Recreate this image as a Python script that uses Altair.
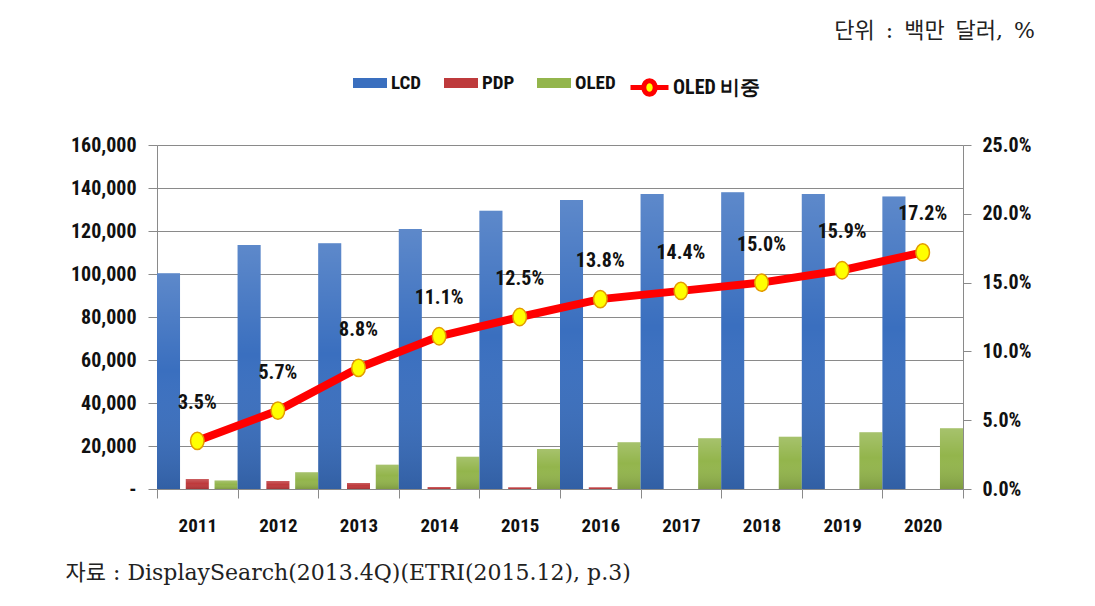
import altair as alt
import pandas as pd

years = ["2011", "2012", "2013", "2014", "2015", "2016", "2017", "2018", "2019", "2020"]
lcd = [100300, 113500, 114300, 120900, 129400, 134400, 137200, 138000, 137200, 136000]
pdp = [4600, 3700, 2800, 900, 800, 800, 0, 0, 0, 0]
oled = [3900, 7800, 11300, 15000, 18600, 21700, 23600, 24300, 26400, 28200]
share = [0.035, 0.057, 0.088, 0.111, 0.125, 0.138, 0.144, 0.150, 0.159, 0.172]
series = ["LCD", "PDP", "OLED"]
series_colors = ["#3a6fbf", "#be3a3c", "#93b54c"]
share_name = "OLED 비중"
unit_text = "단위\u2002:\u2002백만\u2002달러,\u2002%"

rows = []
for i, y in enumerate(years):
    for s, vals in zip(series, [lcd, pdp, oled]):
        rows.append({"year": y, "series": s, "value": vals[i]})
bars_df = pd.DataFrame(rows)
share_df = pd.DataFrame({"year": years, "share": share, "name": [share_name] * len(years)})

NUM_FONT = "Liberation Sans Narrow, Roboto Condensed, DejaVu Sans Condensed, Liberation Sans"
SERIF = "DejaVu Serif, Liberation Serif, Noto Sans CJK KR"

x_enc = alt.X("year:N", sort=years, title="자료 : DisplaySearch(2013.4Q)(ETRI(2015.12), p.3)",
              scale=alt.Scale(paddingInner=0, paddingOuter=0),
              axis=alt.Axis(labelAngle=0, labelFont=NUM_FONT, labelFontSize=19, labelFontWeight="bold",
                            labelColor="#111", labelPadding=18, tickBand="extent", tickSize=9,
                            tickColor="#8a8a8a", domainColor="#8a8a8a",
                            titleFont=SERIF, titleFontSize=22, titleFontWeight="normal", titleColor="#222",
                            titleAnchor="start", titleAlign="left", titleX=-92, titleY=90,
                            titleBaseline="alphabetic"))
x_off = alt.XOffset("series:N", sort=series,
                    scale=alt.Scale(domain=series, paddingInner=0.2, paddingOuter=0))
y_val = alt.Y("value:Q", title=None,
              scale=alt.Scale(domain=[0, 160000], nice=False),
              axis=alt.Axis(values=list(range(0, 160001, 20000)),
                            labelExpr="datum.value == 0 ? '-' : format(datum.value, ',')",
                            labelFont=NUM_FONT, labelFontSize=20, labelFontWeight="bold", labelColor="#111",
                            labelPadding=12, tickSize=9, tickColor="#8a8a8a", domainColor="#8a8a8a",
                            grid=True, gridColor="#8a8a8a", gridWidth=1))

bars = alt.Chart(bars_df).mark_bar().encode(
    x=x_enc,
    xOffset=x_off,
    y=y_val,
    color=alt.Color("series:N", sort=series,
                    scale=alt.Scale(domain=series, range=series_colors),
                    legend=alt.Legend(title=None, orient="none", direction="horizontal",
                                      legendX=196, legendY=-79,
                                      symbolType="M-1,-0.3H1V0.3H-1Z", symbolSize=1156,
                                      symbolStrokeWidth=0, symbolOpacity=1,
                                      labelFont=NUM_FONT, labelFontSize=19, labelFontWeight="bold",
                                      labelColor="#111", labelOffset=4, columnPadding=22)),
)

shade = alt.Chart(bars_df).mark_bar(
    fill=alt.Gradient(gradient="linear", x1=0, y1=0, x2=0, y2=1,
                      stops=[alt.GradientStop(color="rgba(255,255,255,0.18)", offset=0),
                             alt.GradientStop(color="rgba(255,255,255,0.0)", offset=0.45),
                             alt.GradientStop(color="rgba(0,0,0,0.14)", offset=1)])
).encode(
    x=alt.X("year:N", sort=years),
    xOffset=x_off,
    y=alt.Y("value:Q"),
)

share_scale = alt.Scale(domain=[0, 0.25], nice=False)
y_share = alt.Y("share:Q", title=None, scale=share_scale,
                axis=alt.Axis(orient="right", values=[0, 0.05, 0.10, 0.15, 0.20, 0.25], format=".1%",
                              labelFont=NUM_FONT, labelFontSize=20, labelFontWeight="bold",
                              labelColor="#111", labelPadding=11, tickSize=8, tickColor="#8a8a8a",
                              domainColor="#8a8a8a", grid=False))

line = alt.Chart(share_df).mark_line(strokeWidth=8).encode(
    x=alt.X("year:N", sort=years),
    y=y_share,
    stroke=alt.Stroke("name:N", scale=alt.Scale(domain=[share_name], range=["#ff0000"]),
                      legend=alt.Legend(title=None, orient="none", legendX=471, legendY=-79,
                                        symbolType="M-1,0H-0.3M0.3,0H1M-0.3,0A0.3,0.36 0 1,0 0.3,0A0.3,0.36 0 1,0 -0.3,0",
                                        symbolSize=1444, symbolStrokeWidth=5, symbolFillColor="#ffff00",
                                        labelFont=NUM_FONT, labelFontSize=20, labelFontWeight="bold",
                                        labelColor="#111", labelOffset=2)),
)

points = alt.Chart(share_df).mark_point(filled=True, fill="#ffff00", stroke="#e39b00",
                                        strokeWidth=1.5, size=300, opacity=1,
                                        shape="M-0.78,0A0.78,1 0 1,0 0.78,0A0.78,1 0 1,0 -0.78,0").encode(
    x=alt.X("year:N", sort=years),
    y=alt.Y("share:Q", scale=share_scale),
)

labels = alt.Chart(share_df).mark_text(font=NUM_FONT, fontSize=20, fontWeight="bold", color="#111",
                                        dy=-38).encode(
    x=alt.X("year:N", sort=years),
    y=alt.Y("share:Q", scale=share_scale),
    text=alt.Text("share:Q", format=".1%"),
)

share_layer = alt.layer(line, points, labels)

chart = alt.layer(alt.layer(bars, shade), share_layer).resolve_scale(y="independent").properties(
    width=806, height=344,
    autosize="none",
    padding={"left": 149, "top": 137, "right": 120, "bottom": 100},
    title=alt.TitleParams(unit_text, anchor="end", frame="group", font=SERIF, fontSize=22,
                          fontWeight="normal", color="#222", dx=72, dy=-19),
).configure_view(strokeWidth=0).configure(background="white")

chart.save("out.html", embed_options={"renderer": "svg", "actions": False})
